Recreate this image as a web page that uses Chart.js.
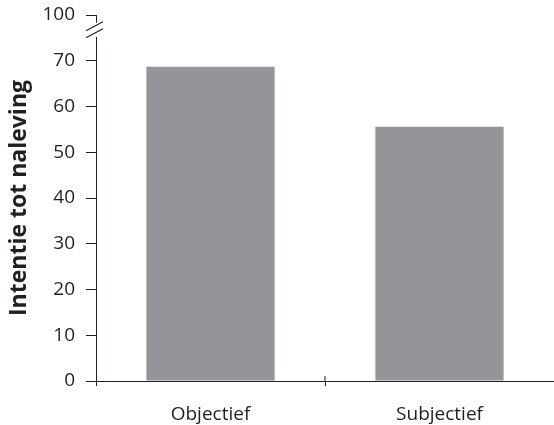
<!DOCTYPE html>
<html lang="nl">
<head>
    <meta charset="UTF-8">
    <title>Intentie tot naleving</title>
    <script src="https://cdn.jsdelivr.net/npm/chart.js"></script>
    <style>
        body { margin: 0; background: #fff; }
        #wrap { width: 554px; height: 425px; }
    </style>
</head>
<body>
    <div id="wrap"><canvas id="myChart"></canvas></div>
    <script>
        // data
        const categories = ['Objectief', 'Subjectief'];
        const values = [68.7, 55.6];
        // axis is broken above 70: the top tick (drawn at 80) is labelled 100
        const tickLabels = { 0: '0', 10: '10', 20: '20', 30: '30', 40: '40', 50: '50', 60: '60', 70: '70', 80: '100' };

        const ink = '#231f20';
        const barColor = '#939598';

        // white gap + two slashes for the axis break, plus the middle x tick going up
        const breakPlugin = {
            id: 'axisBreak',
            afterDraw(chart) {
                const ctx = chart.ctx;
                const y = chart.scales.y;
                const x = chart.scales.x;
                const ax = chart.chartArea.left;
                const yTop = y.getPixelForValue(78.3);
                const yBot = y.getPixelForValue(75.2);
                ctx.save();
                ctx.fillStyle = '#fff';
                ctx.fillRect(ax - 3, yTop, 6, yBot - yTop);
                ctx.strokeStyle = ink;
                ctx.lineWidth = 1.2;
                ctx.beginPath();
                ctx.moveTo(ax - 10, yTop + 8);
                ctx.lineTo(ax + 7, yTop - 1);
                ctx.moveTo(ax - 10, yTop + 15);
                ctx.lineTo(ax + 7, yTop + 6);
                ctx.stroke();
                // middle tick crosses the axis
                const mid = (x.getPixelForValue(0) + x.getPixelForValue(1)) / 2;
                ctx.lineWidth = 1;
                ctx.beginPath();
                ctx.moveTo(mid, chart.chartArea.bottom - 5);
                ctx.lineTo(mid, chart.chartArea.bottom);
                ctx.stroke();
                ctx.restore();
            }
        };

        const ctx = document.getElementById('myChart').getContext('2d');
        new Chart(ctx, {
            type: 'bar',
            data: {
                labels: categories,
                datasets: [{
                    data: values,
                    backgroundColor: barColor,
                    borderWidth: 0,
                    categoryPercentage: 1,
                    barPercentage: 0.56
                }]
            },
            options: {
                responsive: true,
                maintainAspectRatio: false,
                animation: false,
                layout: { padding: { top: 15, right: 0, bottom: 0, left: 0 } },
                plugins: {
                    legend: { display: false },
                    tooltip: { enabled: false }
                },
                scales: {
                    x: {
                        afterFit(scale) { scale.height = 44; },
                        grid: {
                            offset: true,
                            drawOnChartArea: false,
                            tickLength: 5,
                            color: ink
                        },
                        border: { color: ink, width: 1 },
                        ticks: {
                            color: ink,
                            padding: 17,
                            font: { family: 'Open Sans', size: 19 }
                        }
                    },
                    y: {
                        min: 0,
                        max: 80,
                        afterFit(scale) {
                            scale.width = 96;
                            scale.paddingTop = 0;
                            scale.paddingBottom = 0;
                        },
                        grid: {
                            drawOnChartArea: false,
                            tickLength: 10,
                            color: ink
                        },
                        border: { color: ink, width: 1 },
                        ticks: {
                            stepSize: 10,
                            color: ink,
                            padding: 11,
                            font: { family: 'Open Sans', size: 19 },
                            callback: (v) => tickLabels[v]
                        },
                        title: {
                            display: true,
                            text: 'Intentie tot naleving',
                            color: ink,
                            padding: { top: 6, bottom: 0 },
                            font: { family: 'Open Sans', size: 23, weight: 'bold' }
                        }
                    }
                }
            },
            plugins: [breakPlugin]
        });
    </script>
</body>
</html>
